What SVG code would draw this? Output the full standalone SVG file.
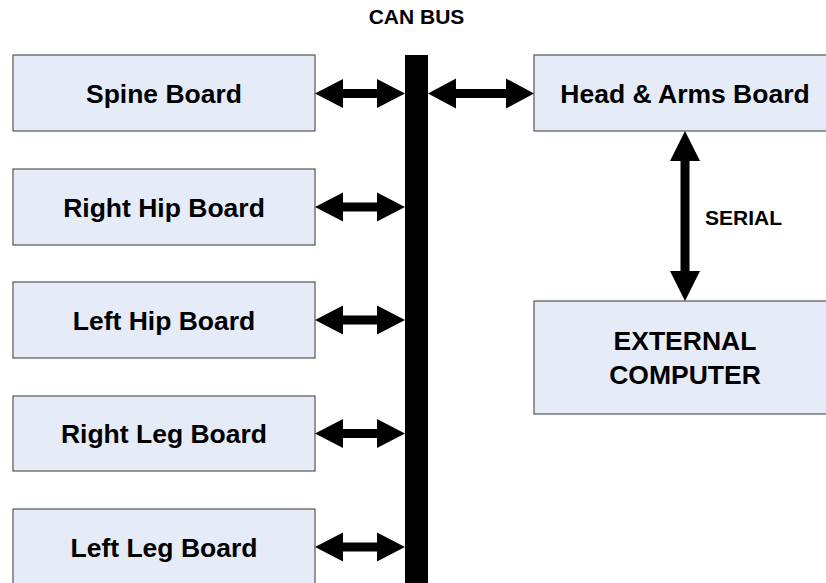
<svg xmlns="http://www.w3.org/2000/svg" width="826" height="583" viewBox="0 0 826 583">
<style>
.box{fill:#e6ecf7;stroke:#555;stroke-width:1.2}
.lbl{font-family:"Liberation Sans",Arial,sans-serif;font-weight:bold;font-size:26.5px;fill:#000;text-anchor:middle}
.sm{font-family:"Liberation Sans",Arial,sans-serif;font-weight:bold;font-size:21px;fill:#000}
.arr{fill:#000}
</style>
<defs>
<polygon id="harr" points="0,0 28,-14.5 28,-4.5 62,-4.5 62,-14.5 90,0 62,14.5 62,4.5 28,4.5 28,14.5"/>
</defs>
<rect width="826" height="583" fill="#fff"/>
<text class="sm" x="416.5" y="24" text-anchor="middle">CAN BUS</text>
<g id="bus"><rect x="405" y="55" width="23" height="540" fill="#000"/></g>
<g id="spine"><rect class="box" x="13" y="55" width="302" height="76"/><text class="lbl" x="164" y="102.5">Spine Board</text></g>
<g id="righthip"><rect class="box" x="13" y="169" width="302" height="76"/><text class="lbl" x="164" y="216.5">Right Hip Board</text></g>
<g id="lefthip"><rect class="box" x="13" y="282" width="302" height="76"/><text class="lbl" x="164" y="329.5">Left Hip Board</text></g>
<g id="rightleg"><rect class="box" x="13" y="396" width="302" height="75"/><text class="lbl" x="164" y="443">Right Leg Board</text></g>
<g id="leftleg"><rect class="box" x="13" y="509" width="302" height="80"/><text class="lbl" x="164" y="556.5">Left Leg Board</text></g>
<g id="headarms"><rect class="box" x="534" y="55" width="302" height="76"/><text class="lbl" x="685" y="102.5">Head &amp; Arms Board</text></g>
<g id="external"><rect class="box" x="534" y="301" width="302" height="113"/><text class="lbl" x="685" y="350">EXTERNAL</text><text class="lbl" x="685" y="383.5">COMPUTER</text></g>
<g id="connectors" class="arr">
<use href="#harr" x="315" y="93.5"/>
<use href="#harr" x="315" y="207"/>
<use href="#harr" x="315" y="320"/>
<use href="#harr" x="315" y="433.5"/>
<use href="#harr" x="315" y="547"/>
<polygon points="428,93.5 456,78.5 456,89 506,89 506,78.5 534,93.5 506,108.5 506,98 456,98 456,108.5"/>
<polygon points="685,131 700,161 689.5,161 689.5,271 700,271 685,301 670,271 680.5,271 680.5,161 670,161"/>
<text class="sm" x="705" y="225">SERIAL</text>
</g>
</svg>
